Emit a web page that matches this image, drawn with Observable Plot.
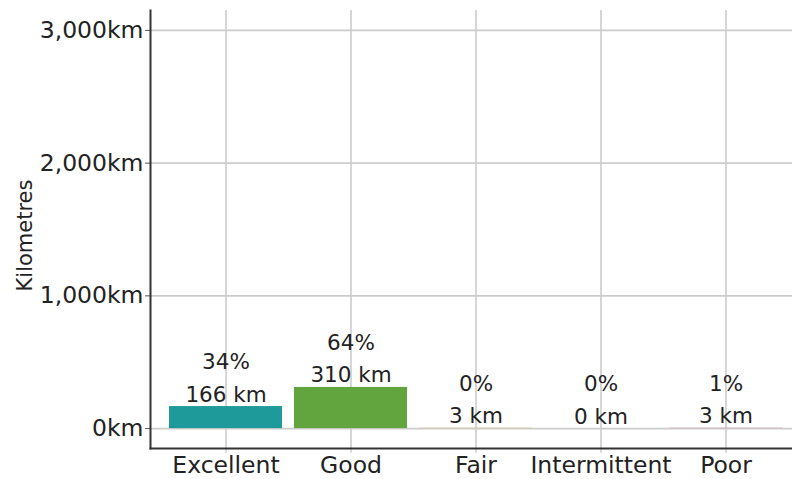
<!DOCTYPE html>
<html>
<head>
<meta charset="utf-8">
<script src="https://cdn.jsdelivr.net/npm/d3@7"></script>
<script src="https://cdn.jsdelivr.net/npm/@observablehq/plot@0.6"></script>
<style>
  html, body { margin: 0; padding: 0; background: #ffffff; }
  #chart { width: 792px; height: 479px; overflow: hidden; }
  svg { display: block; }
</style>
</head>
<body>
<div id="chart"></div>
<script>
const categories = ["Excellent", "Good", "Fair", "Intermittent", "Poor"];
const kilometres = [166, 310, 3, 0, 3];
const percents = [34, 64, 0, 0, 1];
const colors = ["#1f9a9b", "#62a43d", "#d9c27a", "#b0b0b0", "#d98a9a"];
const yTicks = [0, 1000, 2000, 3000];
const yTitle = "Kilometres";

const data = categories.map((c, i) => ({
  category: c,
  km: kilometres[i],
  pct: percents[i],
  color: colors[i]
}));

const font = "'DejaVu Sans', Verdana, sans-serif";
const ink = "#222222";

const chart = Plot.plot({
  width: 792,
  height: 479,
  marginTop: 10,
  marginBottom: 31,
  marginLeft: 150,
  marginRight: 0,
  style: { fontFamily: font, background: "#ffffff", color: ink },
  x: { domain: categories, range: [149, 801], paddingInner: 0.1, paddingOuter: 0.15 },
  y: { domain: [-150, 3150] },
  color: { type: "identity" },
  marks: [
    Plot.gridY(yTicks, { stroke: "#cccccc", strokeOpacity: 1, strokeWidth: 1.6 }),
    Plot.gridX(categories, { stroke: "#cccccc", strokeOpacity: 1, strokeWidth: 1.6 }),
    Plot.barY(data, { x: "category", y: "km", fill: "color", inset: 0 }),
    Plot.text(data, {
      x: "category",
      y: "km",
      text: d => `${d.pct}%\n${d.km} km`,
      lineAnchor: "bottom",
      lineHeight: 1.5,
      dy: -5,
      fontSize: 21.5,
      fill: ink
    }),
    Plot.axisY(yTicks, {
      tickFormat: d => d3.format(",")(d) + "km",
      tickSize: 5,
      tickPadding: 2,
      fontSize: 23.5,
      stroke: "#555555",
      fill: ink,
      label: null
    }),
    Plot.axisX(categories, {
      tickSize: 5,
      tickPadding: 3,
      fontSize: 23.5,
      stroke: "#bbbbbb",
      fill: ink,
      label: null
    }),
    Plot.frame({ anchor: "left", stroke: "#333333", strokeWidth: 2 }),
    Plot.frame({ anchor: "bottom", stroke: "#333333", strokeWidth: 2 }),
    Plot.text([yTitle], {
      frameAnchor: "left",
      textAnchor: "middle",
      rotate: -90,
      dx: -125,
      dy: 6,
      fontSize: 21,
      fill: ink
    })
  ]
});

document.getElementById("chart").appendChild(chart);
</script>
</body>
</html>
